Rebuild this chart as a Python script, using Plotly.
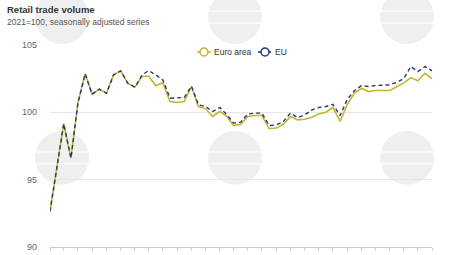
import pandas as pd
import plotly.graph_objects as go

months = pd.date_range("2021-01-01", periods=55, freq="MS")

euro_area = [92.64, 95.88, 99.15, 96.6, 100.7, 102.86, 101.35, 101.72, 101.42, 102.78,
             103.08, 102.17, 101.87, 102.66, 102.7, 101.97, 102.2, 100.8, 100.73, 100.8,
             101.9, 100.43, 100.26, 99.69, 100.06, 99.69, 99.02, 99.12, 99.69, 99.76,
             99.76, 98.78, 98.83, 99.12, 99.69, 99.44, 99.49, 99.64, 99.87, 100.01,
             100.36, 99.32, 100.56, 101.42, 101.79, 101.54, 101.62, 101.62, 101.62, 101.92,
             102.17, 102.58, 102.34, 102.9, 102.49]

eu = [92.64, 95.88, 99.15, 96.6, 100.7, 102.86, 101.35, 101.72, 101.42, 102.78,
      103.08, 102.17, 101.87, 102.78, 103.1, 102.78, 102.4, 101.05, 101.05, 101.1,
      101.95, 100.56, 100.43, 100.06, 100.36, 99.81, 99.2, 99.27, 99.87, 99.94,
      99.94, 99.02, 99.07, 99.32, 99.94, 99.61, 99.81, 100.19, 100.36, 100.43,
      100.6, 99.76, 100.93, 101.6, 101.99, 101.92, 101.99, 101.99, 102.04, 102.24,
      102.49, 103.4, 103.03, 103.4, 103.08]

tick_dates = pd.date_range("2021-01-01", "2025-07-01", freq="2MS")
tick_labels = [d.strftime("%b %Y") for d in tick_dates]

y_ticks = [90, 95, 100, 105]

series_names = ["Euro area", "EU"]
colors = ["#c4b52f", "#27386f"]
dashes = ["solid", "4px,3px"]

fig = go.Figure()

L, R, T, B = 50, 432, 45, 247.3
def px_x(x):
    return (x - L) / (R - L)
def px_y(y):
    return (B - y) / (B - T)

# faint watermark circles (decorative)
for cx in [62, 235, 407]:
    for cy in [17, 158]:
        fig.add_shape(type="circle", xref="paper", yref="paper",
                      x0=px_x(cx - 27), x1=px_x(cx + 27),
                      y0=px_y(cy + 27), y1=px_y(cy - 27),
                      fillcolor="#efefef", line_width=0, layer="below")
        for dy in (-6, 6):
            fig.add_shape(type="rect", xref="paper", yref="paper",
                          x0=px_x(cx - 27), x1=px_x(cx + 27),
                          y0=px_y(cy + dy + 1), y1=px_y(cy + dy - 1),
                          fillcolor="white", line_width=0, layer="below", opacity=0.6)

fig.add_trace(go.Scatter(x=months, y=euro_area, mode="lines", name=series_names[0],
                         line=dict(color=colors[0], width=1.6), showlegend=False))
fig.add_trace(go.Scatter(x=months, y=eu, mode="lines", name=series_names[1],
                         line=dict(color=colors[1], width=1.4, dash=dashes[1]), showlegend=False))

# compact manual legend
legend_pos = [197, 258]
ly = 52
annots = []
for name, col, dsh, lx in zip(series_names, colors, dashes, legend_pos):
    fig.add_shape(type="line", xref="paper", yref="paper",
                  x0=px_x(lx), x1=px_x(lx + 14), y0=px_y(ly), y1=px_y(ly),
                  line=dict(color=col, width=1.5, dash="3px,2px" if dsh != "solid" else "solid"))
    fig.add_shape(type="circle", xref="paper", yref="paper",
                  x0=px_x(lx + 3), x1=px_x(lx + 11), y0=px_y(ly + 4), y1=px_y(ly - 4),
                  fillcolor="white", line=dict(color=col, width=1.5))
    annots.append(dict(xref="paper", yref="paper", x=px_x(lx + 15), y=px_y(ly),
                       xanchor="left", yanchor="middle", showarrow=False, text=name,
                       font=dict(size=8.5, color="#333333")))

annots += [
    dict(xref="paper", yref="paper", x=px_x(5), y=px_y(2),
         xanchor="left", yanchor="top", showarrow=False, align="left",
         text="<b>Retail trade volume</b>",
         font=dict(size=9.5, color="#333333", family="Liberation Sans, Arial")),
    dict(xref="paper", yref="paper", x=px_x(5), y=px_y(15),
         xanchor="left", yanchor="top", showarrow=False, align="left",
         text="2021=100, seasonally adjusted series",
         font=dict(size=8.5, color="#555555", family="Liberation Sans, Arial")),
]

fig.update_layout(
    width=470, height=255,
    margin=dict(l=50, r=38, t=45, b=8),
    paper_bgcolor="white", plot_bgcolor="rgba(0,0,0,0)",
    font=dict(family="Liberation Sans, Arial", color="#666666", size=9),
    showlegend=False,
    annotations=annots,
)

fig.update_xaxes(
    range=[months[0], months[-1]],
    tickvals=tick_dates, ticktext=tick_labels, tickangle=-45,
    showgrid=False, showline=True, linecolor="#cccccc", linewidth=1,
    ticks="outside", ticklen=3, tickcolor="#cccccc",
    tickfont=dict(size=9, color="#666666"), automargin=False, zeroline=False,
)
fig.update_yaxes(
    range=[90, 105], tickvals=y_ticks, ticktext=[str(v) for v in y_ticks],
    showgrid=True, gridcolor="#e6e6e6", gridwidth=1, zeroline=False,
    showline=False, ticks="", ticklabelstandoff=12,
    tickfont=dict(size=9, color="#666666"), automargin=False,
)

fig.write_html("out.html")
